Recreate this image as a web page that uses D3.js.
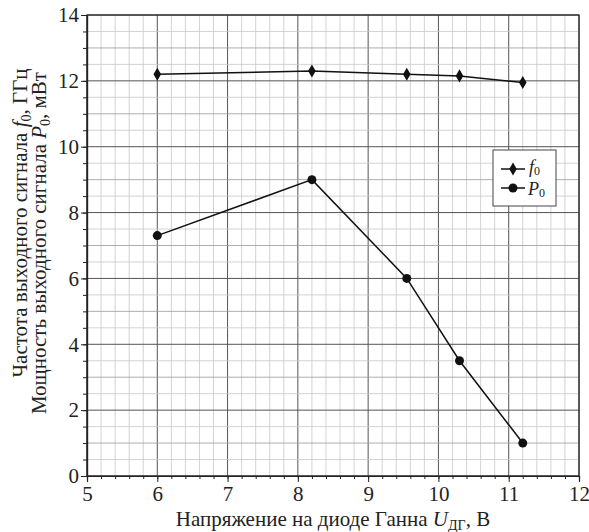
<!DOCTYPE html>
<html>
<head>
<meta charset="utf-8">
<script src="https://cdn.jsdelivr.net/npm/d3@7"></script>
<style>
body { margin: 0; background: #fff; }
svg text { font-family: "Liberation Serif", "Times New Roman", "DejaVu Serif", serif; }
</style>
</head>
<body>
<svg id="chart" width="589" height="532"></svg>
<script>
var voltage = [6.0, 8.2, 9.55, 10.3, 11.2];
var freq = [12.2, 12.3, 12.2, 12.15, 11.95];
var power = [7.3, 9.0, 6.0, 3.5, 1.0];
var xTicks = [5, 6, 7, 8, 9, 10, 11, 12];
var yTicks = [0, 2, 4, 6, 8, 10, 12, 14];

var svg = d3.select("#chart"),
    margins = {"left": 87, "right": 10, "top": 15, "bottom": 56},
    width = 589, height = 532;

var x = d3.scaleLinear().domain([5, 12]).range([margins.left, width - margins.right]),
    y = d3.scaleLinear().domain([0, 14]).range([height - margins.bottom, margins.top]);

var grid = svg.append("g");
// grid: light every 0.2 / 0.5, dark at major ticks
grid.selectAll(".vx").data(d3.range(5, 12.001, 0.2)).enter().append("line")
    .attr("x1", d => x(d)).attr("x2", d => x(d))
    .attr("y1", y(0)).attr("y2", y(14))
    .attr("stroke", d => Math.abs(d - Math.round(d)) < 1e-6 ? "#555" : "#c8c8c8")
    .attr("stroke-width", d => Math.abs(d - Math.round(d)) < 1e-6 ? 1 : 0.8);
grid.selectAll(".hy").data(d3.range(0, 14.001, 0.5)).enter().append("line")
    .attr("y1", d => y(d)).attr("y2", d => y(d))
    .attr("x1", x(5)).attr("x2", x(12))
    .attr("stroke", d => d % 2 === 0 ? "#555" : (d % 1 === 0 ? "#999" : "#c8c8c8"))
    .attr("stroke-width", d => d % 2 === 0 ? 1 : 0.8);

svg.append("rect").attr("x", x(5)).attr("y", y(14))
    .attr("width", x(12) - x(5)).attr("height", y(0) - y(14))
    .attr("fill", "none").attr("stroke", "#222").attr("stroke-width", 1.2);

// axes
svg.append("g").attr("transform", "translate(" + [0, y(0)] + ")")
    .call(d3.axisBottom(x).tickValues(xTicks).tickFormat(d3.format("d")).tickSize(6).tickPadding(4));
svg.append("g").attr("transform", "translate(" + [0, y(0)] + ")")
    .call(d3.axisBottom(x).tickValues(d3.range(5, 12.001, 0.2)).tickFormat("").tickSize(3));
svg.append("g").attr("transform", "translate(" + [x(5), 0] + ")")
    .call(d3.axisLeft(y).tickValues(yTicks).tickFormat(d3.format("d")).tickSize(6).tickPadding(2));
svg.append("g").attr("transform", "translate(" + [x(5), 0] + ")")
    .call(d3.axisLeft(y).tickValues(d3.range(0, 14.001, 0.5)).tickFormat("").tickSize(4));

svg.selectAll("g").attr("font-family", null);
svg.selectAll(".domain").attr("stroke", "#222").attr("stroke-width", 1.2);
svg.selectAll(".tick line").attr("stroke", "#222");
svg.selectAll(".tick text").attr("font-size", 21).attr("fill", "#222");

// titles
var xt = svg.append("text").attr("x", (x(5) + x(12)) / 2).attr("y", 526)
    .attr("text-anchor", "middle").attr("font-size", 21).attr("fill", "#222");
xt.append("tspan").text("Напряжение на диоде Ганна ");
xt.append("tspan").attr("font-style", "italic").text("U");
xt.append("tspan").attr("font-size", 14).attr("dy", 4).text("ДГ");
xt.append("tspan").attr("dy", -4).text(", В");

function ytitle(xpos, ypos, pre, sym, post) {
    var t = svg.append("text").attr("transform", "translate(" + [xpos, ypos] + ") rotate(-90)")
        .attr("text-anchor", "middle").attr("font-size", 21).attr("fill", "#222");
    t.append("tspan").text(pre);
    t.append("tspan").attr("font-style", "italic").text(sym);
    t.append("tspan").attr("font-size", 14).attr("dy", 4).text("0");
    t.append("tspan").attr("dy", -4).text(post);
}
ytitle(27, 223, "Частота выходного сигнала ", "f", ", ГГц");
ytitle(46, 243, "Мощность выходного сигнала ", "P", ", мВт");

// series
var fData = voltage.map((v, i) => [v, freq[i]]),
    pData = voltage.map((v, i) => [v, power[i]]);
var line = d3.line().x(d => x(d[0])).y(d => y(d[1]));

svg.append("path").datum(fData).attr("d", line)
    .attr("fill", "none").attr("stroke", "#111").attr("stroke-width", 1.5);
svg.append("path").datum(pData).attr("d", line)
    .attr("fill", "none").attr("stroke", "#111").attr("stroke-width", 1.5);

var diamond = d3.symbol().type(d3.symbolDiamond).size(50);
svg.selectAll(".fpt").data(fData).enter().append("path")
    .attr("transform", d => "translate(" + [x(d[0]), y(d[1])] + ")")
    .attr("d", diamond).attr("fill", "#111");
svg.selectAll(".ppt").data(pData).enter().append("circle")
    .attr("cx", d => x(d[0])).attr("cy", d => y(d[1])).attr("r", 4.5).attr("fill", "#111");

// legend
var lg = svg.append("g").attr("transform", "translate(493,150)");
lg.append("rect").attr("width", 63).attr("height", 56).attr("fill", "#fff").attr("stroke", "#444");
lg.append("line").attr("x1", 8).attr("x2", 32).attr("y1", 19).attr("y2", 19).attr("stroke", "#111").attr("stroke-width", 1.5);
lg.append("path").attr("transform", "translate(20,19)").attr("d", diamond).attr("fill", "#111");
lg.append("line").attr("x1", 8).attr("x2", 32).attr("y1", 38).attr("y2", 38).attr("stroke", "#111").attr("stroke-width", 1.5);
lg.append("circle").attr("cx", 20).attr("cy", 38).attr("r", 4.5).attr("fill", "#111");
var l1 = lg.append("text").attr("x", 36).attr("y", 23).attr("font-size", 18).attr("fill", "#222");
l1.append("tspan").attr("font-style", "italic").text("f");
l1.append("tspan").attr("font-size", 12).attr("dy", 2).text("0");
var l2 = lg.append("text").attr("x", 35).attr("y", 45).attr("font-size", 18).attr("fill", "#222");
l2.append("tspan").attr("font-style", "italic").text("P");
l2.append("tspan").attr("font-size", 12).attr("dy", 2).text("0");
</script>
</body>
</html>
